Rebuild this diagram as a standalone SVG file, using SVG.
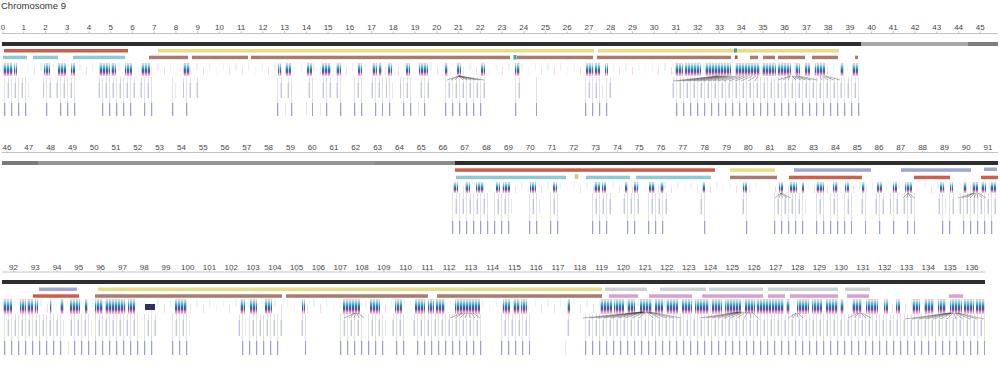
<svg xmlns="http://www.w3.org/2000/svg" width="1000" height="383" viewBox="0 0 1000 383">
<style>
.t{font-family:"Liberation Sans",Arial,sans-serif;font-size:9.5px;fill:#333}
.ax{font-family:"Liberation Sans",Arial,sans-serif;font-size:8px;fill:#444;text-anchor:middle}
.axl{stroke:#9a9a9a;stroke-width:.6;fill:none}
.tk{stroke:#9a9a9a;stroke-width:.5}
.g{fill:url(#gg)}
.lt{fill:url(#lt);opacity:.75}
.lb{fill:url(#lb)}
.st{fill:url(#st)}
.fan{stroke:#2a2a2a;stroke-width:.35;fill:none}
.red{fill:#cd5f4b}.yel{fill:#e8dc82}.brn{fill:#a97c72}.teal{fill:#8ecad2}.pur{fill:#9ea6d2}.gry{fill:#c7d1d2}.pnk{fill:#d6a2cc}
</style>
<defs>
<linearGradient id="gg" x1="0" y1="0" x2="0" y2="1">
<stop offset="0" stop-color="#f6c4c6"/><stop offset=".1" stop-color="#f6c4c6"/>
<stop offset=".13" stop-color="#a6dfe8"/><stop offset=".35" stop-color="#3aaed0"/>
<stop offset=".55" stop-color="#2f66a6"/><stop offset=".7" stop-color="#7a4a98"/>
<stop offset=".85" stop-color="#d88ab8"/><stop offset="1" stop-color="#f4c8dc"/>
</linearGradient>
<pattern id="st" width="3" height="10" patternUnits="userSpaceOnUse"><rect x="0" y="0" width=".7" height="10" fill="#fff"/></pattern>
<pattern id="lt" width="13" height="383" patternUnits="userSpaceOnUse">
<g fill="#a4d8e4"><rect x="1.6" y="63" width=".7" height="8"/><rect x="1.6" y="182" width=".7" height="7"/><rect x="1.6" y="299" width=".7" height="8"/></g>
<g fill="#f1b9cd"><rect x="8" y="67" width=".7" height="8"/><rect x="8" y="186" width=".7" height="7"/><rect x="8" y="304" width=".7" height="9"/></g>
</pattern>
<pattern id="lb" width="7" height="383" patternUnits="userSpaceOnUse">
<g fill="#a8a8a8">
<rect x="1" y="77" width=".35" height="6"/><rect x="4.5" y="77" width=".35" height="26"/>
<rect x="1" y="193" width=".35" height="6"/><rect x="4.5" y="193" width=".35" height="28"/>
<rect x="1" y="314" width=".35" height="6"/><rect x="4.5" y="314" width=".35" height="27"/>
</g>
<g fill="#a9aed6"><rect x=".7" y="83" width="1" height="15"/><rect x=".7" y="199" width="1" height="15"/><rect x=".7" y="320" width="1" height="16"/></g>
<g fill="#7f87c6"><rect x="4.2" y="103" width="1" height="13"/><rect x="4.2" y="221" width="1" height="13"/><rect x="4.2" y="341" width="1" height="14"/></g>
</pattern>
</defs>
<rect width="1000" height="383" fill="#fff"/>
<text class="t" x="1" y="9">Chromosome 9</text>

<!-- ROW 1 -->
<g id="row1-axis">
<line class="axl" x1="2" y1="33.5" x2="998" y2="33.5"/>
<path class="tk" d="M3,31v2.5M23.7,31v2.5M45.5,31v2.5M67.2,31v2.5M89,31v2.5M110.7,31v2.5M132.4,31v2.5M154.2,31v2.5M175.9,31v2.5M197.7,31v2.5M219.4,31v2.5M241.1,31v2.5M262.9,31v2.5M284.6,31v2.5M306.4,31v2.5M328.1,31v2.5M349.8,31v2.5M371.6,31v2.5M393.3,31v2.5M415.1,31v2.5M436.8,31v2.5M458.5,31v2.5M480.3,31v2.5M502,31v2.5M523.8,31v2.5M545.5,31v2.5M567.2,31v2.5M589,31v2.5M610.7,31v2.5M632.5,31v2.5M654.2,31v2.5M675.9,31v2.5M697.7,31v2.5M719.4,31v2.5M741.2,31v2.5M762.9,31v2.5M784.6,31v2.5M806.4,31v2.5M828.1,31v2.5M849.9,31v2.5M871.6,31v2.5M893.3,31v2.5M915.1,31v2.5M936.8,31v2.5M958.6,31v2.5M980.3,31v2.5"/>
<text class="ax" x="3" y="30">0</text><text class="ax" x="23.7" y="30">1</text><text class="ax" x="45.5" y="30">2</text><text class="ax" x="67.2" y="30">3</text><text class="ax" x="89" y="30">4</text><text class="ax" x="110.7" y="30">5</text><text class="ax" x="132.4" y="30">6</text><text class="ax" x="154.2" y="30">7</text><text class="ax" x="175.9" y="30">8</text><text class="ax" x="197.7" y="30">9</text><text class="ax" x="219.4" y="30">10</text><text class="ax" x="241.1" y="30">11</text><text class="ax" x="262.9" y="30">12</text><text class="ax" x="284.6" y="30">13</text><text class="ax" x="306.4" y="30">14</text><text class="ax" x="328.1" y="30">15</text><text class="ax" x="349.8" y="30">16</text><text class="ax" x="371.6" y="30">17</text><text class="ax" x="393.3" y="30">18</text><text class="ax" x="415.1" y="30">19</text><text class="ax" x="436.8" y="30">20</text><text class="ax" x="458.5" y="30">21</text><text class="ax" x="480.3" y="30">22</text><text class="ax" x="502" y="30">23</text><text class="ax" x="523.8" y="30">24</text><text class="ax" x="545.5" y="30">25</text><text class="ax" x="567.2" y="30">26</text><text class="ax" x="589" y="30">27</text><text class="ax" x="610.7" y="30">28</text><text class="ax" x="632.5" y="30">29</text><text class="ax" x="654.2" y="30">30</text><text class="ax" x="675.9" y="30">31</text><text class="ax" x="697.7" y="30">32</text><text class="ax" x="719.4" y="30">33</text><text class="ax" x="741.2" y="30">34</text><text class="ax" x="762.9" y="30">35</text><text class="ax" x="784.6" y="30">36</text><text class="ax" x="806.4" y="30">37</text><text class="ax" x="828.1" y="30">38</text><text class="ax" x="849.9" y="30">39</text><text class="ax" x="871.6" y="30">40</text><text class="ax" x="893.3" y="30">41</text><text class="ax" x="915.1" y="30">42</text><text class="ax" x="936.8" y="30">43</text><text class="ax" x="958.6" y="30">44</text><text class="ax" x="980.3" y="30">45</text>
</g>
<g id="row1-chromosome">
<rect x="2" y="42" width="859" height="4" fill="#2e2e2e"/>
<rect x="861" y="42" width="107" height="4" fill="#a8a8a8"/>
<rect x="968" y="42" width="30" height="4" fill="#7e7e7e"/>
</g>
<g id="row1-segments">
<rect class="red" x="4" y="49" width="124" height="3.5"/>
<rect class="yel" x="158" y="49" width="436" height="3.5"/>
<rect class="yel" x="598" y="49" width="241" height="3.5"/>
<rect class="teal" x="3" y="55.7" width="24" height="3.5"/>
<rect class="teal" x="33" y="55.7" width="25" height="3.5"/>
<rect class="teal" x="73" y="55.7" width="52" height="3.5"/>
<rect class="brn" x="149" y="55.7" width="39" height="3.5"/>
<rect class="brn" x="192" y="55.7" width="56" height="3.5"/>
<rect class="brn" x="251" y="55.7" width="259" height="3.5"/>
<rect class="brn" x="517" y="55.7" width="76" height="3.5"/>
<rect class="brn" x="597" y="55.7" width="134" height="3.5"/>
<rect class="brn" x="750" y="55.7" width="8" height="3.5"/>
<rect class="brn" x="763" y="55.7" width="12" height="3.5"/>
<rect class="brn" x="778" y="55.7" width="27" height="3.5"/>
<rect class="brn" x="812" y="55.7" width="26" height="3.5"/>
<rect x="513.5" y="55" width="3" height="4.5" fill="#3aa89a"/>
<rect x="734" y="48.5" width="3" height="4" fill="#3aa89a"/>
<rect x="735" y="55.5" width="2.5" height="3.5" fill="#cd3b3b"/>
<rect class="brn" x="855" y="55.7" width="3" height="3.5"/>
</g>
<g id="row1-genes">
<rect class="lt" x="2" y="62" width="858" height="15"/>
<g class="g">
<rect x="3" y="63" width="10" height="13"/><rect x="14" y="63" width="3" height="13"/><rect x="44" y="63" width="6" height="13"/><rect x="58" y="63" width="8" height="13"/><rect x="71" y="63" width="4" height="13"/><rect x="99" y="63" width="11" height="13"/><rect x="111" y="63" width="5" height="13"/><rect x="125" y="63" width="7" height="13"/><rect x="141" y="63" width="9" height="13"/><rect x="183" y="63" width="7" height="13"/>
<rect x="278" y="63" width="3" height="13"/><rect x="285" y="63" width="6" height="13"/><rect x="307" y="63" width="5" height="13"/><rect x="322" y="63" width="9" height="13"/><rect x="336" y="63" width="5" height="13"/><rect x="358" y="63" width="4" height="13"/><rect x="372" y="63" width="5" height="13"/><rect x="379" y="63" width="3" height="13"/><rect x="388" y="63" width="4" height="13"/><rect x="406" y="63" width="4" height="13"/><rect x="419" y="63" width="9" height="13"/><rect x="445" y="63" width="3" height="13"/><rect x="457" y="63" width="4" height="13"/><rect x="481" y="63" width="4" height="13"/>
<rect x="515" y="63" width="5" height="13"/><rect x="586" y="63" width="7" height="13"/><rect x="595" y="63" width="5" height="13"/><rect x="605" y="63" width="3" height="13"/><rect x="675" y="63" width="8" height="13"/><rect x="685" y="63" width="16" height="13"/><rect x="705" y="63" width="26" height="13"/><rect x="735" y="63" width="15" height="13"/><rect x="750" y="63" width="10" height="13"/><rect x="762" y="63" width="14" height="13"/><rect x="778" y="63" width="13" height="13"/><rect x="795" y="63" width="5" height="13"/><rect x="805" y="63" width="5" height="13"/><rect x="815" y="63" width="10" height="13"/><rect x="840" y="63" width="4" height="13"/><rect x="852" y="63" width="6" height="13"/>
</g>
<rect class="st" x="0" y="62" width="1000" height="15"/>
</g>
<g id="row1-labels">
<g class="lb">
<rect x="3" y="76" width="26" height="45"/><rect x="43" y="76" width="10" height="45"/><rect x="55" y="76" width="21" height="45"/><rect x="98" y="76" width="37" height="45"/><rect x="140" y="76" width="13" height="45"/><rect x="170" y="76" width="6" height="45"/><rect x="183" y="76" width="8" height="45"/><rect x="196" y="76" width="4" height="45"/>
<rect x="276" y="76" width="6" height="45"/><rect x="285" y="76" width="8" height="45"/><rect x="306" y="76" width="7" height="45"/><rect x="320" y="76" width="13" height="45"/><rect x="335" y="76" width="8" height="45"/><rect x="352" y="76" width="12" height="45"/><rect x="371" y="76" width="12" height="45"/><rect x="386" y="76" width="7" height="45"/><rect x="400" y="76" width="12" height="45"/><rect x="418" y="76" width="13" height="45"/><rect x="445" y="76" width="41" height="45"/>
<rect x="515" y="76" width="5" height="45"/><rect x="534" y="76" width="3" height="45"/><rect x="584" y="76" width="19" height="45"/><rect x="605" y="76" width="6" height="45"/><rect x="672" y="76" width="88" height="45"/><rect x="760" y="76" width="100" height="45"/>
</g>
<path class="fan" d="M459,76L447,80M459,76L451,80M459,76L455,80M459,76L463,80M459,76L467,80M459,76L471,80M459,76L476,80M459,76L480,80M459,76L484,80"/>
<path class="fan" d="M718,76L673,81M718,76L678,81M720,76L683,81M722,76L688,81M724,76L693,81M726,76L698,81M728,76L703,81M730,76L708,81M733,76L713,81M736,76L718,81M740,76L723,81M744,76L729,81M748,76L735,81M752,76L741,81M756,76L748,81M758,76L755,81"/>
<path class="fan" d="M790,76L778,80M790,76L783,80M790,76L788,80M792,76L796,80M792,76L801,80M794,76L806,80M796,76L811,80M798,76L817,80M820,76L822,80M822,76L828,80M824,76L834,80M826,76L840,80"/>
</g>

<!-- ROW 2 -->
<g id="row2-axis">
<line class="axl" x1="2" y1="152.5" x2="998" y2="152.5"/>
<path class="tk" d="M7,150.5v2M28.8,150.5v2M50.6,150.5v2M72.4,150.5v2M94.2,150.5v2M116,150.5v2M137.8,150.5v2M159.6,150.5v2M181.4,150.5v2M203.2,150.5v2M225,150.5v2M246.8,150.5v2M268.6,150.5v2M290.4,150.5v2M312.2,150.5v2M334,150.5v2M355.8,150.5v2M377.6,150.5v2M399.4,150.5v2M421.2,150.5v2M443,150.5v2M464.8,150.5v2M486.6,150.5v2M508.4,150.5v2M530.2,150.5v2M552,150.5v2M573.8,150.5v2M595.6,150.5v2M617.4,150.5v2M639.2,150.5v2M661,150.5v2M682.8,150.5v2M704.6,150.5v2M726.4,150.5v2M748.2,150.5v2M770,150.5v2M791.8,150.5v2M813.6,150.5v2M835.4,150.5v2M857.2,150.5v2M879,150.5v2M900.8,150.5v2M922.6,150.5v2M944.4,150.5v2M966.2,150.5v2M988,150.5v2"/>
<text class="ax" x="7" y="150">46</text><text class="ax" x="28.8" y="150">47</text><text class="ax" x="50.6" y="150">48</text><text class="ax" x="72.4" y="150">49</text><text class="ax" x="94.2" y="150">50</text><text class="ax" x="116" y="150">51</text><text class="ax" x="137.8" y="150">52</text><text class="ax" x="159.6" y="150">53</text><text class="ax" x="181.4" y="150">54</text><text class="ax" x="203.2" y="150">55</text><text class="ax" x="225" y="150">56</text><text class="ax" x="246.8" y="150">57</text><text class="ax" x="268.6" y="150">58</text><text class="ax" x="290.4" y="150">59</text><text class="ax" x="312.2" y="150">60</text><text class="ax" x="334" y="150">61</text><text class="ax" x="355.8" y="150">62</text><text class="ax" x="377.6" y="150">63</text><text class="ax" x="399.4" y="150">64</text><text class="ax" x="421.2" y="150">65</text><text class="ax" x="443" y="150">66</text><text class="ax" x="464.8" y="150">67</text><text class="ax" x="486.6" y="150">68</text><text class="ax" x="508.4" y="150">69</text><text class="ax" x="530.2" y="150">70</text><text class="ax" x="552" y="150">71</text><text class="ax" x="573.8" y="150">72</text><text class="ax" x="595.6" y="150">73</text><text class="ax" x="617.4" y="150">74</text><text class="ax" x="639.2" y="150">75</text><text class="ax" x="661" y="150">76</text><text class="ax" x="682.8" y="150">77</text><text class="ax" x="704.6" y="150">78</text><text class="ax" x="726.4" y="150">79</text><text class="ax" x="748.2" y="150">80</text><text class="ax" x="770" y="150">81</text><text class="ax" x="791.8" y="150">82</text><text class="ax" x="813.6" y="150">83</text><text class="ax" x="835.4" y="150">84</text><text class="ax" x="857.2" y="150">85</text><text class="ax" x="879" y="150">86</text><text class="ax" x="900.8" y="150">87</text><text class="ax" x="922.6" y="150">88</text><text class="ax" x="944.4" y="150">89</text><text class="ax" x="966.2" y="150">90</text><text class="ax" x="988" y="150">91</text>
</g>
<g id="row2-chromosome">
<rect x="2" y="161" width="36" height="4" fill="#7a7a7a"/>
<rect x="38" y="161" width="337" height="4" fill="#959595"/>
<rect x="375" y="161" width="80" height="4" fill="#8a8a8a"/>
<rect x="455" y="161" width="543" height="4" fill="#2e2e2e"/>
</g>
<g id="row2-segments">
<rect class="red" x="455" y="168.3" width="260" height="3.5"/>
<rect class="teal" x="456" y="175.7" width="110" height="3.5"/>
<rect class="teal" x="586" y="175.7" width="44" height="3.5"/>
<rect class="teal" x="636" y="175.7" width="75" height="3.5"/>
<rect x="575" y="174.5" width="3" height="4" fill="#e2d24a" stroke="#999" stroke-width=".3"/>
<rect class="yel" x="730" y="168.3" width="45" height="3.5"/>
<rect class="brn" x="730" y="175.7" width="47" height="3.5"/>
<rect class="pur" x="794" y="168.3" width="77" height="3.5"/>
<rect class="red" x="789" y="175.7" width="73" height="3.5"/>
<rect class="pur" x="901" y="168.3" width="70" height="3.5"/>
<rect class="pur" x="984" y="167.5" width="13" height="3.5"/>
<rect class="red" x="914" y="175.7" width="36" height="3.5"/>
<rect class="red" x="981" y="175.7" width="17" height="3.5"/>
</g>
<g id="row2-genes">
<rect class="lt" x="453" y="181" width="545" height="13"/>
<g class="g">
<rect x="453" y="182" width="5" height="11"/><rect x="465" y="182" width="5" height="11"/><rect x="476" y="182" width="8" height="11"/><rect x="496" y="182" width="4" height="11"/><rect x="503" y="182" width="7" height="11"/><rect x="530" y="182" width="6" height="11"/><rect x="553" y="182" width="4" height="11"/><rect x="594" y="182" width="6" height="11"/><rect x="602" y="182" width="4" height="11"/><rect x="625" y="182" width="3" height="11"/><rect x="634" y="182" width="4" height="11"/><rect x="649" y="182" width="6" height="11"/><rect x="660" y="182" width="4" height="11"/><rect x="702" y="182" width="3" height="11"/>
<rect x="743" y="182" width="4" height="11"/><rect x="779" y="182" width="4" height="11"/><rect x="790" y="182" width="7" height="11"/><rect x="802" y="182" width="2" height="11"/><rect x="816" y="182" width="8" height="11"/><rect x="833" y="182" width="5" height="11"/><rect x="845" y="182" width="4" height="11"/><rect x="862" y="182" width="3" height="11"/><rect x="877" y="182" width="5" height="11"/><rect x="893" y="182" width="4" height="11"/><rect x="905" y="182" width="7" height="11"/><rect x="940" y="182" width="4" height="11"/><rect x="950" y="182" width="3" height="11"/><rect x="963" y="182" width="4" height="11"/><rect x="972" y="182" width="6" height="11"/><rect x="981" y="182" width="5" height="11"/><rect x="990" y="182" width="6" height="11"/>
</g>
<rect class="st" x="0" y="181" width="1000" height="13"/>
</g>
<g id="row2-labels">
<g class="lb">
<rect x="452" y="192" width="38" height="44"/><rect x="493" y="192" width="19" height="44"/><rect x="527" y="192" width="13" height="44"/><rect x="550" y="192" width="10" height="44"/><rect x="590" y="192" width="22" height="44"/><rect x="622" y="192" width="18" height="44"/><rect x="648" y="192" width="20" height="44"/><rect x="700" y="192" width="6" height="44"/>
<rect x="742" y="192" width="6" height="44"/><rect x="772" y="192" width="4" height="44"/><rect x="776" y="192" width="30" height="44"/><rect x="815" y="192" width="11" height="44"/><rect x="830" y="192" width="10" height="44"/><rect x="843" y="192" width="9" height="44"/><rect x="860" y="192" width="6" height="44"/><rect x="875" y="192" width="10" height="44"/><rect x="890" y="192" width="8" height="44"/><rect x="903" y="192" width="12" height="44"/><rect x="938" y="192" width="8" height="44"/><rect x="948" y="192" width="7" height="44"/><rect x="958" y="192" width="40" height="44"/>
</g>
<path class="fan" d="M781,193L775,198M781,193L779,198M781,193L783,198M781,193L787,198M781,193L791,198"/>
<path class="fan" d="M908,193L903,198M908,193L907,198M908,193L911,198M908,193L915,198"/>
<path class="fan" d="M974,193L958,198M974,193L962,198M974,193L966,198M975,193L970,198M976,193L974,198M977,193L978,198M978,193L982,198M979,193L986,198"/>
</g>

<!-- ROW 3 -->
<g id="row3-axis">
<line class="axl" x1="2" y1="272" x2="985" y2="272"/>
<path class="tk" d="M13.5,270v2M35.3,270v2M57.1,270v2M78.8,270v2M100.6,270v2M122.4,270v2M144.2,270v2M166,270v2M187.7,270v2M209.5,270v2M231.3,270v2M253.1,270v2M274.9,270v2M296.6,270v2M318.4,270v2M340.2,270v2M362,270v2M383.8,270v2M405.6,270v2M427.3,270v2M449.1,270v2M470.9,270v2M492.7,270v2M514.5,270v2M536.2,270v2M558,270v2M579.8,270v2M601.6,270v2M623.4,270v2M645.2,270v2M666.9,270v2M688.7,270v2M710.5,270v2M732.3,270v2M754.1,270v2M775.8,270v2M797.6,270v2M819.4,270v2M841.2,270v2M863,270v2M884.7,270v2M906.5,270v2M928.3,270v2M950.1,270v2M971.9,270v2"/>
<text class="ax" x="13.5" y="269.5">92</text><text class="ax" x="35.3" y="269.5">93</text><text class="ax" x="57.1" y="269.5">94</text><text class="ax" x="78.8" y="269.5">95</text><text class="ax" x="100.6" y="269.5">96</text><text class="ax" x="122.4" y="269.5">97</text><text class="ax" x="144.2" y="269.5">98</text><text class="ax" x="166" y="269.5">99</text><text class="ax" x="187.7" y="269.5">100</text><text class="ax" x="209.5" y="269.5">101</text><text class="ax" x="231.3" y="269.5">102</text><text class="ax" x="253.1" y="269.5">103</text><text class="ax" x="274.9" y="269.5">104</text><text class="ax" x="296.6" y="269.5">105</text><text class="ax" x="318.4" y="269.5">106</text><text class="ax" x="340.2" y="269.5">107</text><text class="ax" x="362" y="269.5">108</text><text class="ax" x="383.8" y="269.5">109</text><text class="ax" x="405.6" y="269.5">110</text><text class="ax" x="427.3" y="269.5">111</text><text class="ax" x="449.1" y="269.5">112</text><text class="ax" x="470.9" y="269.5">113</text><text class="ax" x="492.7" y="269.5">114</text><text class="ax" x="514.5" y="269.5">115</text><text class="ax" x="536.2" y="269.5">116</text><text class="ax" x="558" y="269.5">117</text><text class="ax" x="579.8" y="269.5">118</text><text class="ax" x="601.6" y="269.5">119</text><text class="ax" x="623.4" y="269.5">120</text><text class="ax" x="645.2" y="269.5">121</text><text class="ax" x="666.9" y="269.5">122</text><text class="ax" x="688.7" y="269.5">123</text><text class="ax" x="710.5" y="269.5">124</text><text class="ax" x="732.3" y="269.5">125</text><text class="ax" x="754.1" y="269.5">126</text><text class="ax" x="775.8" y="269.5">127</text><text class="ax" x="797.6" y="269.5">128</text><text class="ax" x="819.4" y="269.5">129</text><text class="ax" x="841.2" y="269.5">130</text><text class="ax" x="863" y="269.5">131</text><text class="ax" x="884.7" y="269.5">132</text><text class="ax" x="906.5" y="269.5">133</text><text class="ax" x="928.3" y="269.5">134</text><text class="ax" x="950.1" y="269.5">135</text><text class="ax" x="971.9" y="269.5">136</text>
</g>
<g id="row3-chromosome">
<rect x="2" y="280" width="983" height="4" fill="#2e2e2e"/>
</g>
<g id="row3-segments">
<rect class="pur" x="39" y="287.5" width="38" height="3.5"/>
<rect class="yel" x="98" y="287.5" width="504" height="3.5"/>
<rect class="gry" x="605" y="287.5" width="42" height="3.5"/>
<rect class="gry" x="660" y="287.5" width="46" height="3.5"/>
<rect class="gry" x="709" y="287.5" width="54" height="3.5"/>
<rect class="gry" x="768" y="287.5" width="70" height="3.5"/>
<rect class="gry" x="845" y="287.5" width="25" height="3.5"/>
<rect class="red" x="33" y="294.3" width="46" height="3.5"/>
<rect class="brn" x="95" y="294.3" width="187" height="3.5"/>
<rect class="brn" x="286" y="294.3" width="142" height="3.5"/>
<rect class="brn" x="437" y="294.3" width="165" height="3.5"/>
<rect class="pnk" x="609" y="294.3" width="29" height="3.5"/>
<rect class="pnk" x="649" y="294.3" width="43" height="3.5"/>
<rect class="pnk" x="702" y="294.3" width="61" height="3.5"/>
<rect class="pnk" x="768" y="294.3" width="17" height="3.5"/>
<rect class="pnk" x="790" y="294.3" width="48" height="3.5"/>
<rect class="pnk" x="847" y="294.3" width="22" height="3.5"/>
<rect class="pnk" x="949" y="294.3" width="14" height="3.5"/>
</g>
<g id="row3-genes">
<rect class="lt" x="2" y="298" width="983" height="16"/>
<g class="g">
<rect x="3" y="299" width="9" height="15"/><rect x="20" y="299" width="6" height="15"/><rect x="27" y="299" width="6" height="15"/><rect x="35" y="299" width="3" height="15"/><rect x="50" y="299" width="2" height="15"/><rect x="60" y="299" width="4" height="15"/><rect x="70" y="299" width="10" height="15"/><rect x="85" y="299" width="3" height="15"/><rect x="95" y="299" width="8" height="15"/><rect x="105" y="299" width="20" height="15"/><rect x="128" y="299" width="7" height="15"/><rect x="175" y="299" width="12" height="15"/><rect x="240" y="299" width="5" height="15"/>
<rect x="250" y="299" width="7" height="15"/><rect x="265" y="299" width="7" height="15"/><rect x="302" y="299" width="3" height="15"/><rect x="343" y="299" width="17" height="15"/><rect x="370" y="299" width="10" height="15"/><rect x="395" y="299" width="7" height="15"/><rect x="415" y="299" width="10" height="15"/><rect x="428" y="299" width="6" height="15"/><rect x="436" y="299" width="9" height="15"/><rect x="455" y="299" width="25" height="15"/>
<rect x="503" y="299" width="7" height="15"/><rect x="513" y="299" width="7" height="15"/><rect x="521" y="299" width="6" height="15"/><rect x="567" y="299" width="3" height="15"/>
<rect x="600" y="299" width="12" height="15"/><rect x="614" y="299" width="10" height="15"/><rect x="627" y="299" width="8" height="15"/><rect x="640" y="299" width="12" height="15"/><rect x="655" y="299" width="8" height="15"/><rect x="666" y="299" width="12" height="15"/><rect x="682" y="299" width="10" height="15"/><rect x="695" y="299" width="14" height="15"/><rect x="712" y="299" width="10" height="15"/><rect x="725" y="299" width="16" height="15"/><rect x="745" y="299" width="10" height="15"/><rect x="757" y="299" width="14" height="15"/><rect x="772" y="299" width="12" height="15"/><rect x="786" y="299" width="4" height="15"/><rect x="797" y="299" width="12" height="15"/><rect x="812" y="299" width="10" height="15"/><rect x="826" y="299" width="12" height="15"/><rect x="840" y="299" width="4" height="15"/><rect x="852" y="299" width="10" height="15"/><rect x="866" y="299" width="12" height="15"/><rect x="884" y="299" width="4" height="15"/><rect x="896" y="299" width="4" height="15"/><rect x="912" y="299" width="8" height="15"/><rect x="924" y="299" width="10" height="15"/><rect x="938" y="299" width="8" height="15"/><rect x="950" y="299" width="12" height="15"/><rect x="964" y="299" width="10" height="15"/><rect x="976" y="299" width="9" height="15"/>
</g>
<rect class="st" x="0" y="298" width="1000" height="16"/>
<rect x="145" y="304" width="10" height="6" fill="#2a2f6a"/>
</g>
<g id="row3-labels">
<g class="lb">
<rect x="2" y="313" width="62" height="44"/><rect x="68" y="313" width="24" height="44"/><rect x="94" y="313" width="46" height="44"/><rect x="144" y="313" width="14" height="44"/><rect x="170" y="313" width="20" height="44"/><rect x="238" y="313" width="8" height="44"/><rect x="248" y="313" width="35" height="44"/><rect x="300" y="313" width="6" height="44"/><rect x="340" y="313" width="24" height="44"/><rect x="366" y="313" width="20" height="44"/><rect x="392" y="313" width="14" height="44"/><rect x="412" y="313" width="70" height="44"/><rect x="500" y="313" width="30" height="44"/><rect x="565" y="313" width="6" height="44"/><rect x="583" y="313" width="402" height="44"/>
</g>
<path class="fan" d="M355,313L344,318M355,313L349,318M356,313L354,318M357,313L359,318M358,313L364,318"/>
<path class="fan" d="M462,313L450,318M463,313L455,318M465,313L460,318M467,313L465,318M469,313L470,318M471,313L475,318M473,313L480,318"/>
<path class="fan" d="M642,312L583,318M642,312L590,318M642,312L597,318M643,312L604,318M643,312L611,318M644,312L618,318M644,312L625,318M645,312L632,318M646,312L639,318M647,312L653,318M648,312L660,318M648,312L667,318M649,312L674,318M650,312L681,318"/>
<path class="fan" d="M738,312L700,318M739,312L706,318M740,312L712,318M741,312L718,318M742,312L724,318M744,312L730,318M746,312L737,318M748,312L744,318M750,312L751,318M752,312L758,318"/>
<path class="fan" d="M796,313L788,318M796,313L793,318M797,313L798,318M798,313L803,318"/>
<path class="fan" d="M858,313L848,318M859,313L854,318M860,313L860,318M861,313L866,318M862,313L871,318"/>
<path class="fan" d="M950,313L905,319M950,313L912,319M951,313L919,319M951,313L926,319M952,313L933,319M952,313L940,319M953,313L947,319M954,313L956,319M955,313L963,319M956,313L970,319M957,313L977,319M958,313L984,319"/>
</g>
</svg>
